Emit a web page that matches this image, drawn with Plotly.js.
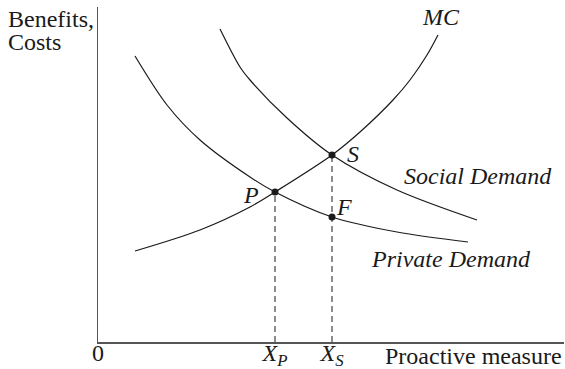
<!DOCTYPE html>
<html>
<head>
<meta charset="utf-8">
<script src="https://cdn.plot.ly/plotly-3.0.1.min.js"></script>
<style>
html,body{margin:0;padding:0;background:#fff;}
#chart{width:565px;height:369px;}
</style>
</head>
<body>
<div id="chart"></div>
<script>
// Curve data (arbitrary units)
var mcX = [3.7, 10.2, 15.2, 17.7, 23.4, 26.2, 29.5, 31.2, 32.9, 34.0];
var mcY = [9.1, 11.2, 13.5, 15.0, 18.7, 21.0, 24.2, 26.2, 28.7, 30.7];

var socialX = [12.2, 14.2, 15.2, 18.9, 23.4, 29.9, 37.9];
var socialY = [31.3, 27.5, 26.2, 22.4, 18.7, 15.2, 12.2];

var privateX = [3.7, 6.9, 10.2, 15.2, 17.7, 23.4, 29.9, 37.0];
var privateY = [28.6, 23.7, 20.2, 16.5, 15.0, 12.5, 11.0, 10.0];

// Marked points P, S, F
var pointNames = ['P', 'S', 'F'];
var pointX = [17.7, 23.4, 23.4];
var pointY = [15.0, 18.7, 12.5];

// Axis tick labels
var tickVals = [0, pointX[0], pointX[1]];
var tickText = ['0', '<i>X<sub>P</sub></i>', '<i>X<sub>S</sub></i>'];

var FONT = 'Liberation Serif, Times New Roman, Times, serif';
var INK = '#1a1a1a';
var FS = 24;

var curveLine = {color: INK, width: 1.2, shape: 'spline', smoothing: 0.9};

var traces = [
  {x: mcX, y: mcY, mode: 'lines', line: curveLine, hoverinfo: 'skip'},
  {x: socialX, y: socialY, mode: 'lines', line: curveLine, hoverinfo: 'skip'},
  {x: privateX, y: privateY, mode: 'lines', line: curveLine, hoverinfo: 'skip'},
  {x: [pointX[0], pointX[0]], y: [0, pointY[0]], mode: 'lines',
   line: {color: INK, width: 1, dash: '6px,4px'}, hoverinfo: 'skip'},
  {x: [pointX[1], pointX[1]], y: [0, pointY[1]], mode: 'lines',
   line: {color: INK, width: 1, dash: '6px,4px'}, hoverinfo: 'skip'},
  {x: pointX, y: pointY, mode: 'markers',
   marker: {color: INK, size: 7}, hoverinfo: 'skip'}
];

// plot area in pixels: left 98, top 7, width 466, height 335
function px(x) { return (x - 98) / 466; }
function py(y) { return (342 - y) / 335; }

function lab(text, x, y, italic, xa) {
  return {
    text: italic ? '<i>' + text + '</i>' : text,
    xref: 'paper', yref: 'paper', x: px(x), y: py(y),
    xanchor: xa || 'center', yanchor: 'middle', showarrow: false,
    font: {family: FONT, size: FS, color: INK}
  };
}

var layout = {
  width: 565, height: 369,
  margin: {l: 98, r: 1, t: 7, b: 27},
  paper_bgcolor: '#fff', plot_bgcolor: '#fff',
  showlegend: false,
  font: {family: FONT, color: INK},
  xaxis: {
    range: [0, 46.6], showgrid: false, zeroline: false,
    showline: true, linecolor: '#555', linewidth: 1.5,
    tickmode: 'array', tickvals: tickVals, ticktext: tickText,
    ticks: '', ticklen: 0, ticklabelstandoff: -11,
    tickfont: {family: FONT, size: FS, color: INK},
    fixedrange: true
  },
  yaxis: {
    range: [0, 33.5], showgrid: false, zeroline: false,
    showline: true, linecolor: '#555', linewidth: 1.5,
    showticklabels: false, ticks: '', fixedrange: true
  },
  annotations: [
    lab('Benefits,', 6, 19, false, 'left'),
    lab('Costs', 6, 42, false, 'left'),
    lab('MC', 441, 17, true),
    lab('S', 353, 154, true),
    lab('Social Demand', 478, 176, true),
    lab('P', 251, 195, true),
    lab('F', 344, 207, true),
    lab('Private Demand', 451, 259, true),
    lab('Proactive measure', 564, 356, false, 'right')
  ]
};

Plotly.newPlot('chart', traces, layout, {displayModeBar: false, staticPlot: true});
</script>
</body>
</html>
